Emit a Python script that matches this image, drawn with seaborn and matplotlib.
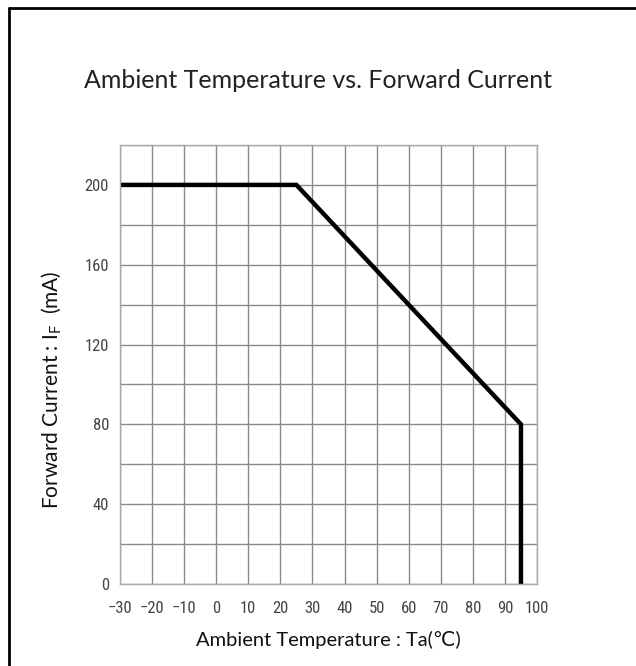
import matplotlib
matplotlib.use("Agg")
import matplotlib.pyplot as plt
import seaborn as sns
import pandas as pd
from matplotlib.lines import Line2D

temperature = [-30, 25, 95, 95]
forward_current = [200, 200, 80, 0]
x_ticks = list(range(-30, 101, 10))
y_ticks = list(range(0, 201, 40))
y_grid = list(range(0, 221, 20))

sns.set_theme(style="white")
plt.rcParams['font.family'] = ['Lato', 'DejaVu Sans']

df = pd.DataFrame({"Ta": temperature, "IF": forward_current})

fig = plt.figure(figsize=(6.36, 6.66), dpi=100)
ax = fig.add_axes([120/636, 82/666, 417/636, 439/666])

ax.set_xlim(-30, 100)
ax.set_ylim(0, 220)
ax.set_xticks(x_ticks)
ax.set_yticks(y_grid)
ax.set_yticklabels([str(v) if v in y_ticks else "" for v in y_grid])
ax.grid(True, color="#8a8a8a", linewidth=1.0)
ax.set_axisbelow(True)
for s in ax.spines.values():
    s.set_color("#aaaaaa")
    s.set_linewidth(1.0)

sns.lineplot(data=df, x="Ta", y="IF", sort=False, estimator=None,
             color="black", linewidth=3.2, ax=ax)
for ln in ax.lines:
    ln.set_solid_joinstyle("miter")

narrow = ['Liberation Sans Narrow', 'DejaVu Sans Condensed', 'Roboto Condensed', 'Lato']
ax.tick_params(axis="both", length=0, labelsize=12, labelcolor="#444444")
ax.tick_params(axis="x", pad=12)
ax.tick_params(axis="y", pad=8)
for lbl in ax.get_xticklabels() + ax.get_yticklabels():
    lbl.set_family(narrow)

ax.set_xlabel("Ambient Temperature : Ta(℃)", fontsize=14.5, color="#111111", labelpad=11,
              family=['Lato', 'DejaVu Sans'])
ax.set_ylabel("Forward Current : I$_\\mathregular{F}$  (mA)", fontsize=15, color="#111111")
ax.yaxis.set_label_coords(-0.135, 0.442)

fig.text(0.5, 1 - 80/666, "Ambient Temperature vs. Forward Current", ha="center", va="center",
         fontsize=18, color="#222222")

fig.add_artist(Line2D([9/636, 1.0], [1 - 8/666, 1 - 8/666], transform=fig.transFigure,
                      color="black", linewidth=2))
fig.add_artist(Line2D([9/636, 9/636], [0, 1 - 8/666], transform=fig.transFigure,
                      color="black", linewidth=2))

fig.savefig("out.png", dpi=100, facecolor="white")
